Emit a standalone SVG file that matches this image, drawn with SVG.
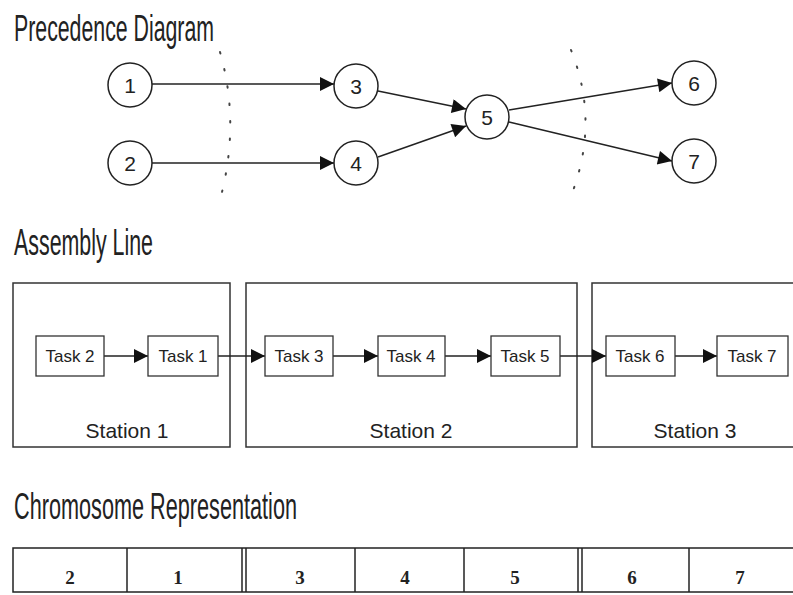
<svg xmlns="http://www.w3.org/2000/svg" width="793" height="595" viewBox="0 0 793 595">
<style>
.title{font-family:"Liberation Sans",Arial,sans-serif;font-size:36px;fill:#222}
.node circle{fill:#fff;stroke:#222;stroke-width:1.5}
.node text{font-family:"Liberation Sans",Arial,sans-serif;font-size:21px;fill:#222;text-anchor:middle}
.edge{stroke:#222;stroke-width:1.5;fill:none}
.sep{stroke:#444;stroke-width:2;fill:none;stroke-dasharray:1.5 16;stroke-linecap:round}
.station rect{fill:#fff;stroke:#333;stroke-width:1.5}
.station text{font-family:"Liberation Sans",Arial,sans-serif;font-size:21px;fill:#222;text-anchor:middle}
.task rect{fill:#fff;stroke:#333;stroke-width:1.3}
.task text{font-family:"Liberation Sans",Arial,sans-serif;font-size:17px;fill:#222;text-anchor:middle}
.chrom{fill:#fff;stroke:#222;stroke-width:1.5}
.gene{font-family:"Liberation Serif",serif;font-size:19px;font-weight:bold;fill:#222;text-anchor:middle}
</style>
<defs>
<marker id="ah" viewBox="0 0 10 10" refX="10" refY="5" markerWidth="17" markerHeight="14" markerUnits="userSpaceOnUse" orient="auto">
<path d="M0,0 L10,5 L0,10 z" fill="#111"/>
</marker>
</defs>
<rect width="793" height="595" fill="#fff"/>

<text class="title" x="14" y="41" textLength="200" lengthAdjust="spacingAndGlyphs">Precedence Diagram</text>
<text class="title" x="14" y="255" textLength="139" lengthAdjust="spacingAndGlyphs">Assembly Line</text>
<text class="title" x="14" y="519" textLength="283" lengthAdjust="spacingAndGlyphs">Chromosome Representation</text>

<g id="separators">
<path class="sep" d="M220,52 Q240,122 221,196"/>
<path class="sep" d="M571,50 Q600,122 571,196"/>
</g>

<g id="connectors">
<line class="edge" x1="152" y1="84" x2="334" y2="84" marker-end="url(#ah)"/>
<line class="edge" x1="152" y1="163" x2="334" y2="163" marker-end="url(#ah)"/>
<line class="edge" x1="378" y1="91" x2="466" y2="109" marker-end="url(#ah)"/>
<line class="edge" x1="378" y1="157" x2="466" y2="126" marker-end="url(#ah)"/>
<line class="edge" x1="509" y1="110" x2="672" y2="83" marker-end="url(#ah)"/>
<line class="edge" x1="509" y1="122" x2="672" y2="161" marker-end="url(#ah)"/>
</g>

<g id="n1" class="node"><circle cx="130" cy="85" r="22"/><text x="130" y="93">1</text></g>
<g id="n2" class="node"><circle cx="130" cy="163" r="22"/><text x="130" y="171">2</text></g>
<g id="n3" class="node"><circle cx="356" cy="86" r="22"/><text x="356" y="94">3</text></g>
<g id="n4" class="node"><circle cx="356" cy="163" r="22"/><text x="356" y="171">4</text></g>
<g id="n5" class="node"><circle cx="487" cy="117" r="22"/><text x="487" y="125">5</text></g>
<g id="n6" class="node"><circle cx="694" cy="83" r="22"/><text x="694" y="91">6</text></g>
<g id="n7" class="node"><circle cx="694" cy="161" r="22"/><text x="694" y="169">7</text></g>

<g id="station1" class="station"><rect x="13" y="283" width="217" height="164"/><text x="127" y="438">Station 1</text></g>
<g id="station2" class="station"><rect x="246" y="283" width="331" height="164"/><text x="411" y="438">Station 2</text></g>
<g id="station3" class="station"><rect x="592" y="283" width="210" height="164"/><text x="695" y="438">Station 3</text></g>

<g id="assembly-connectors">
<line class="edge" x1="104" y1="356" x2="148" y2="356" marker-end="url(#ah)"/>
<line class="edge" x1="218" y1="356" x2="265" y2="356" marker-end="url(#ah)"/>
<line class="edge" x1="333" y1="356" x2="378" y2="356" marker-end="url(#ah)"/>
<line class="edge" x1="445" y1="356" x2="491" y2="356" marker-end="url(#ah)"/>
<line class="edge" x1="560" y1="356" x2="606" y2="356" marker-end="url(#ah)"/>
<line class="edge" x1="675" y1="356" x2="717" y2="356" marker-end="url(#ah)"/>
</g>

<g id="task2" class="task"><rect x="36" y="336" width="68" height="40"/><text x="70" y="362">Task 2</text></g>
<g id="task1" class="task"><rect x="148" y="336" width="70" height="40"/><text x="183" y="362">Task 1</text></g>
<g id="task3" class="task"><rect x="265" y="336" width="68" height="40"/><text x="299" y="362">Task 3</text></g>
<g id="task4" class="task"><rect x="378" y="336" width="67" height="40"/><text x="411" y="362">Task 4</text></g>
<g id="task5" class="task"><rect x="491" y="336" width="69" height="40"/><text x="525" y="362">Task 5</text></g>
<g id="task6" class="task"><rect x="606" y="336" width="69" height="40"/><text x="640" y="362">Task 6</text></g>
<g id="task7" class="task"><rect x="717" y="336" width="71" height="40"/><text x="752" y="362">Task 7</text></g>

<g id="chromosome">
<rect class="chrom" x="13" y="548" width="800" height="44"/>
<line class="chrom" x1="127" y1="548" x2="127" y2="592" stroke-width="1"/>
<line class="chrom" x1="242" y1="548" x2="242" y2="592"/>
<line class="chrom" x1="246" y1="548" x2="246" y2="592"/>
<line class="chrom" x1="355" y1="548" x2="355" y2="592"/>
<line class="chrom" x1="464" y1="548" x2="464" y2="592"/>
<line class="chrom" x1="578" y1="548" x2="578" y2="592"/>
<line class="chrom" x1="582" y1="548" x2="582" y2="592"/>
<line class="chrom" x1="689" y1="548" x2="689" y2="592"/>
<text class="gene" x="70" y="584">2</text>
<text class="gene" x="178" y="584">1</text>
<text class="gene" x="300" y="584">3</text>
<text class="gene" x="405" y="584">4</text>
<text class="gene" x="515" y="584">5</text>
<text class="gene" x="632" y="584">6</text>
<text class="gene" x="740" y="584">7</text>
</g>
</svg>
